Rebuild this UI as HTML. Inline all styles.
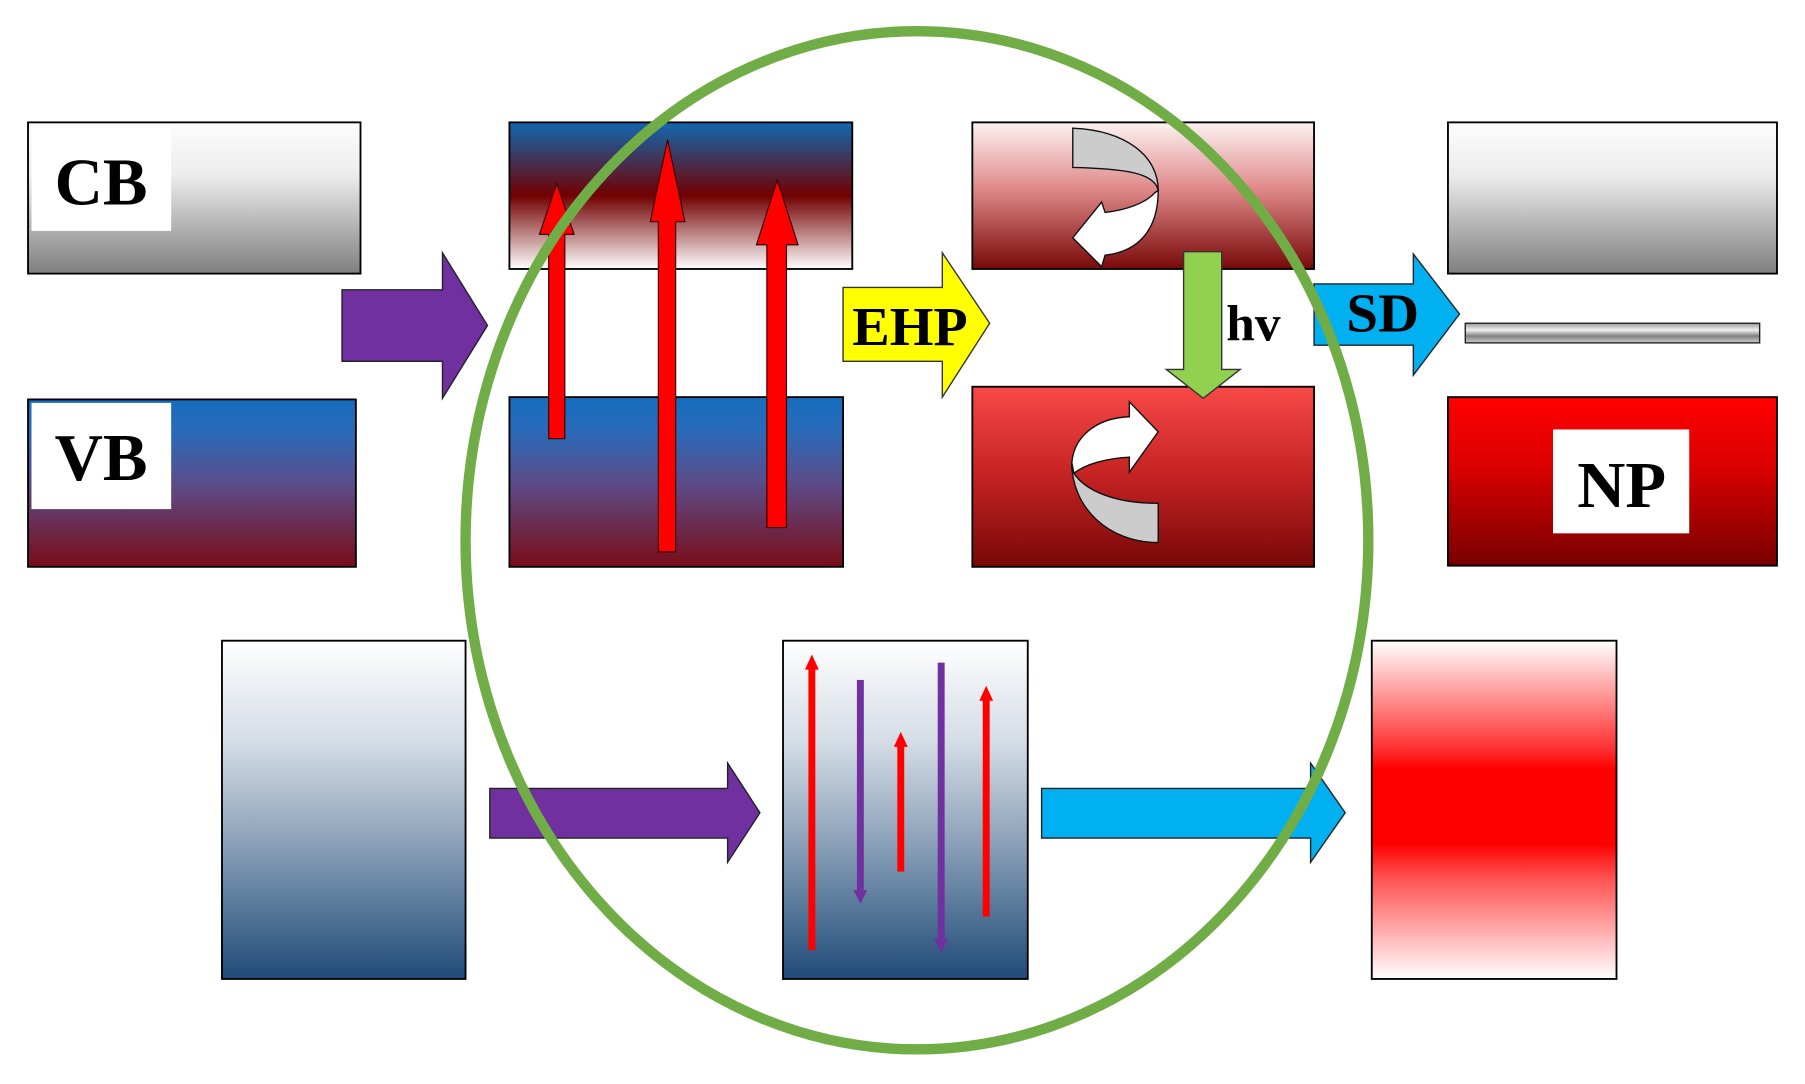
<!DOCTYPE html>
<html><head><meta charset="utf-8"><style>
html,body{margin:0;padding:0;background:#fff;}
svg{display:block;}
text{font-family:"Liberation Serif",serif;font-weight:bold;fill:#000;}
</style></head><body>
<svg width="1805" height="1084" viewBox="0 0 1563 939" xmlns="http://www.w3.org/2000/svg">
<defs>
<linearGradient id="gw" x1="0" y1="0" x2="0" y2="1"><stop offset="0" stop-color="#fdfdfd"/><stop offset="0.35" stop-color="#ececec"/><stop offset="1" stop-color="#7f7f7f"/></linearGradient>
<linearGradient id="gvb" x1="0" y1="0" x2="0" y2="1"><stop offset="0" stop-color="#166cbe"/><stop offset="0.2" stop-color="#2a6ab8"/><stop offset="0.5" stop-color="#5a4d8a"/><stop offset="1" stop-color="#7a0c18"/></linearGradient>
<linearGradient id="gcb2" x1="0" y1="0" x2="0" y2="1"><stop offset="0" stop-color="#1068b0"/><stop offset="0.5" stop-color="#720000"/><stop offset="1" stop-color="#ffffff"/></linearGradient>
<linearGradient id="gr1" x1="0" y1="0" x2="0" y2="1"><stop offset="0" stop-color="#fdf2f2"/><stop offset="0.45" stop-color="#e08a8a"/><stop offset="1" stop-color="#780808"/></linearGradient>
<linearGradient id="gr2" x1="0" y1="0" x2="0" y2="1"><stop offset="0" stop-color="#f94848"/><stop offset="0.5" stop-color="#c42222"/><stop offset="1" stop-color="#780808"/></linearGradient>
<linearGradient id="gnp" x1="0" y1="0" x2="0" y2="1"><stop offset="0" stop-color="#ff0000"/><stop offset="0.4" stop-color="#dc0000"/><stop offset="1" stop-color="#780000"/></linearGradient>
<linearGradient id="gbar" x1="0" y1="0" x2="0" y2="1"><stop offset="0" stop-color="#999"/><stop offset="0.35" stop-color="#f0f0f0"/><stop offset="0.65" stop-color="#808080"/><stop offset="1" stop-color="#ccc"/></linearGradient>
<linearGradient id="gbl" x1="0" y1="0" x2="0" y2="1"><stop offset="0" stop-color="#ffffff"/><stop offset="0.3" stop-color="#d4dce5"/><stop offset="0.6" stop-color="#8aa0b8"/><stop offset="1" stop-color="#1f4b78"/></linearGradient>
<linearGradient id="grd" x1="0" y1="0" x2="0" y2="1"><stop offset="0" stop-color="#ffffff"/><stop offset="0.32" stop-color="#ff3030"/><stop offset="0.38" stop-color="#ff0000"/><stop offset="0.6" stop-color="#ff0000"/><stop offset="0.7" stop-color="#ff5050"/><stop offset="1" stop-color="#ffffff"/></linearGradient>
</defs>

<!-- column 1 -->
<rect x="24" y="106" width="288" height="131" fill="url(#gw)" stroke="#000" stroke-width="1.6"/>
<rect x="27" y="109" width="121" height="91" fill="#fff"/>
<text x="47" y="177" font-size="58">CB</text>
<rect x="24" y="346" width="284" height="145" fill="url(#gvb)" stroke="#000" stroke-width="1.6"/>
<rect x="27" y="349" width="121" height="92" fill="#fff"/>
<text x="47" y="416" font-size="58">VB</text>

<polygon points="296,251 383,251 383,219 422,282 383,345 383,313 296,313" fill="#7030a0" stroke="#222" stroke-width="1.2"/>

<!-- column 2 -->
<rect x="441" y="106" width="297" height="127" fill="url(#gcb2)" stroke="#000" stroke-width="1.6"/>
<rect x="441" y="344" width="289" height="147" fill="url(#gvb)" stroke="#000" stroke-width="1.6"/>
<g fill="#ff0000" stroke="#300" stroke-width="1">
<polygon points="475,380 489,380 489,203 497,203 482,159 467,203 475,203"/>
<polygon points="570,478 585,478 585,192 593,192 578,121 563,192 570,192"/>
<polygon points="664,457 681,457 681,212 691,212 673,156 655,212 664,212"/>
</g>

<!-- EHP -->
<polygon points="730,249 816,249 816,219 857,280 816,344 816,313 730,313" fill="#ffff00" stroke="#333" stroke-width="1.2"/>
<text x="738" y="299" font-size="48" textLength="100" lengthAdjust="spacingAndGlyphs">EHP</text>

<!-- column 3 -->
<rect x="842" y="106" width="296" height="127" fill="url(#gr1)" stroke="#000" stroke-width="1.6"/>
<rect x="842" y="335" width="296" height="156" fill="url(#gr2)" stroke="#000" stroke-width="1.6"/>
<g stroke="#111" stroke-width="1.2">
<path d="M929,111 C975,113 1003,135 1003,165 C1000,150 975,146 929,145 Z" fill="#cccccc"/>
<path d="M1003,165 C1003,200 985,218 957,221 L954,231 L929,206 L954,175 L957,184 C975,182 992,176 1000,167 Z" fill="#fff"/>
<path d="M928,405 C928,378 950,362 978,361 L978,348 L1003,374 L978,409 L978,396 C958,397 940,402 930,410 Z" fill="#fff"/>
<path d="M928,400 C928,440 960,470 1003,470 L1003,436 C965,436 940,425 930,410 Z" fill="#cccccc"/>
</g>
<polygon points="1025,218 1058,218 1058,320 1074,320 1042,345 1010,320 1025,320" fill="#92d050" stroke="#333" stroke-width="1.2"/>
<text x="1062" y="295" font-size="44" textLength="47" lengthAdjust="spacingAndGlyphs">hv</text>

<!-- SD -->
<polygon points="1138,246 1224,246 1224,220 1264,272 1224,325 1224,299 1138,299" fill="#00b0f0" stroke="#222" stroke-width="1.2"/>
<text x="1166" y="287" font-size="48" textLength="63" lengthAdjust="spacingAndGlyphs">SD</text>

<!-- column 4 -->
<rect x="1254" y="106" width="285" height="131" fill="url(#gw)" stroke="#000" stroke-width="1.6"/>
<rect x="1269" y="280" width="255" height="17" fill="url(#gbar)" stroke="#222" stroke-width="1.2"/>
<rect x="1254" y="344" width="285" height="146" fill="url(#gnp)" stroke="#000" stroke-width="1.6"/>
<rect x="1345" y="372" width="118" height="90" fill="#fff"/>
<text x="1366" y="439" font-size="57" textLength="77" lengthAdjust="spacingAndGlyphs">NP</text>

<!-- bottom row -->
<rect x="192" y="555" width="211" height="293" fill="url(#gbl)" stroke="#000" stroke-width="1.6"/>
<polygon points="424,683 630,683 630,661 658,704 630,747 630,726 424,726" fill="#7030a0" stroke="#222" stroke-width="1.2"/>
<rect x="678" y="555" width="212" height="293" fill="url(#gbl)" stroke="#000" stroke-width="1.6"/>
<g stroke-width="0">
<rect x="700" y="578" width="6" height="245" fill="#ff0000"/><polygon points="697,580 709,580 703,567" fill="#ff0000"/>
<rect x="742" y="589" width="6" height="183" fill="#7030a0"/><polygon points="739,771 751,771 745,783" fill="#7030a0"/>
<rect x="777" y="645" width="6" height="110" fill="#ff0000"/><polygon points="774,647 786,647 780,634" fill="#ff0000"/>
<rect x="812" y="574" width="6" height="240" fill="#7030a0"/><polygon points="809,813 821,813 815,826" fill="#7030a0"/>
<rect x="851" y="605" width="6" height="189" fill="#ff0000"/><polygon points="848,607 860,607 854,594" fill="#ff0000"/>
</g>
<polygon points="902,683 1135,683 1135,661 1165,704 1135,747 1135,726 902,726" fill="#00b0f0" stroke="#222" stroke-width="1.2"/>
<rect x="1188" y="555" width="212" height="293" fill="url(#grd)" stroke="#000" stroke-width="1.6"/>

<!-- ellipse -->
<ellipse cx="794" cy="468" rx="391" ry="441" fill="none" stroke="#70ad47" stroke-width="9"/>
</svg>
</body></html>
